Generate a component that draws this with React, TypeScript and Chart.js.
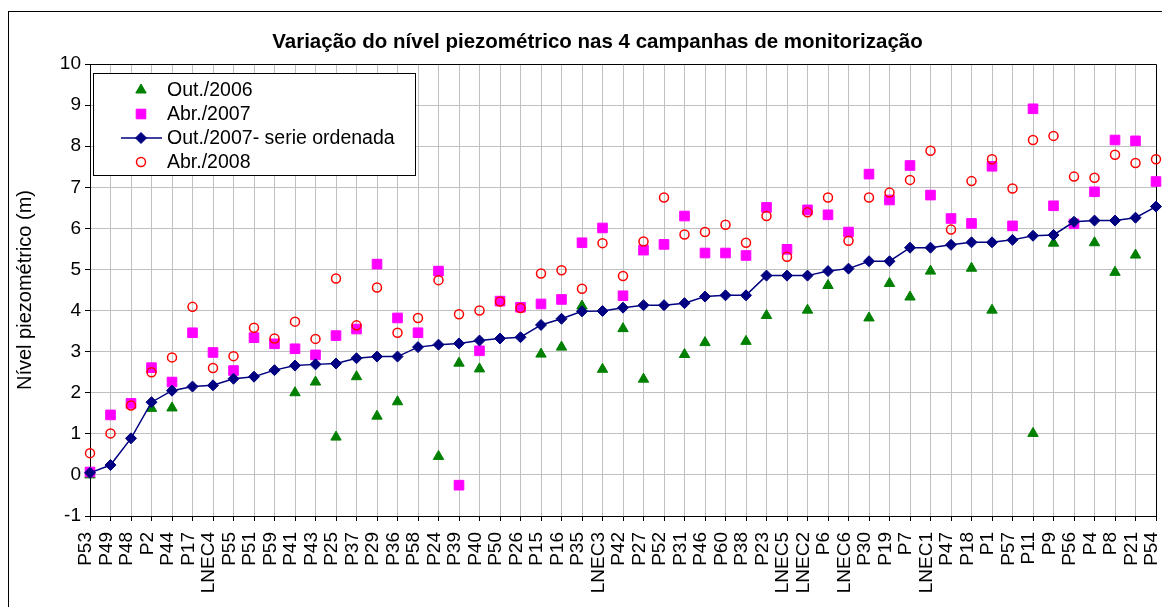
import React, { useEffect, useRef } from 'react';
import { Chart, registerables } from 'chart.js';

Chart.register(...registerables);

const FONT = '"Liberation Sans", Arial, Helvetica, sans-serif';

const chartTitle = 'Variação do nível piezométrico nas 4 campanhas de monitorização';
const yAxisTitle = 'Nível piezométrico (m)';
const yMin = -1;
const yMax = 10;
const yStep = 1;

const categories = [
  'P53', 'P49', 'P48', 'P2', 'P44', 'P17', 'LNEC4', 'P55', 'P51', 'P59',
  'P41', 'P43', 'P25', 'P37', 'P29', 'P36', 'P58', 'P24', 'P39', 'P40',
  'P50', 'P26', 'P15', 'P16', 'P35', 'LNEC3', 'P42', 'P27', 'P52', 'P31',
  'P46', 'P60', 'P38', 'P23', 'LNEC5', 'LNEC2', 'P6', 'LNEC6', 'P30', 'P19',
  'P7', 'LNEC1', 'P47', 'P18', 'P1', 'P57', 'P11', 'P9', 'P56', 'P4',
  'P8', 'P21', 'P54',
];

const seriesNames = ['Out./2006', 'Abr./2007', 'Out./2007- serie ordenada', 'Abr./2008'];

const out2006 = [
  0.0, null, null, 1.62, 1.63, null, null, null, null, null,
  2.0, 2.26, 0.92, 2.39, 1.43, 1.78, null, 0.45, 2.72, 2.58,
  null, null, 2.94, 3.11, 4.11, 2.57, 3.56, 2.33, null, 2.93,
  3.22, null, 3.25, 3.88, null, 4.01, 4.61, null, 3.82, 4.66,
  4.33, 4.96, null, 5.03, 4.01, null, 1.01, 5.64, null, 5.65,
  4.93, 5.35, null,
];

const abr2007 = [
  0.07, 1.46, 1.74, 2.61, 2.26, 3.46, 2.98, 2.54, 3.34, 3.19,
  3.07, 2.92, 3.39, 3.55, 5.13, 3.82, 3.46, 4.96, -0.25, 3.02,
  4.23, 4.08, 4.16, 4.27, 5.65, 6.01, 4.36, 5.47, 5.61, 6.30,
  5.40, 5.40, 5.34, 6.51, 5.49, 6.45, 6.33, 5.91, 7.32, 6.69,
  7.53, 6.81, 6.24, 6.12, 7.51, 6.06, 8.91, 6.55, 6.11, 6.89,
  8.15, 8.13, 7.14,
];

const out2007 = [
  0.05, 0.24, 0.89, 1.77, 2.05, 2.15, 2.18, 2.34, 2.39, 2.55,
  2.66, 2.69, 2.71, 2.84, 2.88, 2.88, 3.11, 3.17, 3.20, 3.27,
  3.32, 3.35, 3.65, 3.80, 3.98, 3.99, 4.07, 4.13, 4.13, 4.18,
  4.34, 4.37, 4.37, 4.85, 4.85, 4.85, 4.96, 5.02, 5.20, 5.20,
  5.53, 5.53, 5.60, 5.66, 5.66, 5.72, 5.82, 5.84, 6.16, 6.19,
  6.19, 6.26, 6.53,
];

const abr2008 = [
  0.53, 1.01, 1.69, 2.50, 2.86, 4.09, 2.60, 2.89, 3.58, 3.32,
  3.73, 3.31, 4.78, 3.64, 4.56, 3.46, 3.82, 4.74, 3.91, 4.00,
  4.22, 4.06, 4.90, 4.98, 4.53, 5.64, 4.84, 5.68, 6.75, 5.85,
  5.91, 6.09, 5.65, 6.30, 5.31, 6.39, 6.75, 5.70, 6.75, 6.87,
  7.18, 7.89, 5.97, 7.15, 7.68, 6.97, 8.15, 8.25, 7.26, 7.23,
  7.79, 7.59, 7.68,
];

function drawMarker(
  ctx: CanvasRenderingContext2D,
  style: string,
  x: number,
  y: number,
  r: number,
  fill: string,
  stroke: string,
  lw: number
) {
  ctx.beginPath();
  if (style === 'triangle') {
    ctx.moveTo(x, y - r);
    ctx.lineTo(x + r * 0.866, y + r / 2);
    ctx.lineTo(x - r * 0.866, y + r / 2);
    ctx.closePath();
  } else if (style === 'rect') {
    const s = r * Math.SQRT1_2;
    ctx.rect(x - s, y - s, 2 * s, 2 * s);
  } else if (style === 'rectRot') {
    ctx.moveTo(x - r, y);
    ctx.lineTo(x, y - r);
    ctx.lineTo(x + r, y);
    ctx.lineTo(x, y + r);
    ctx.closePath();
  } else {
    ctx.arc(x, y, r, 0, Math.PI * 2);
  }
  if (fill && fill !== 'transparent') {
    ctx.fillStyle = fill;
    ctx.fill();
  }
  if (lw > 0) {
    ctx.strokeStyle = stroke;
    ctx.lineWidth = lw;
    ctx.stroke();
  }
}

const plotBorderPlugin = {
  id: 'plotBorder',
  beforeDatasetsDraw(chart: any) {
    const { ctx, chartArea } = chart;
    ctx.save();
    ctx.strokeStyle = '#000';
    ctx.lineWidth = 1;
    const l = Math.round(chartArea.left) + 0.5;
    const t = Math.round(chartArea.top) + 0.5;
    const r = Math.round(chartArea.right) + 0.5;
    const b = Math.round(chartArea.bottom) + 0.5;
    ctx.beginPath();
    ctx.moveTo(l, t);
    ctx.lineTo(r, t);
    ctx.lineTo(r, b);
    ctx.stroke();
    ctx.restore();
  },
};

const boxLegendPlugin = {
  id: 'boxLegend',
  afterDatasetsDraw(chart: any) {
    const { ctx, chartArea } = chart;
    const x0 = Math.round(chartArea.left) + 3;
    const y0 = Math.round(chartArea.top) + 9;
    const w = 322;
    const h = 102;
    ctx.save();
    ctx.fillStyle = '#fff';
    ctx.fillRect(x0, y0, w, h);
    ctx.strokeStyle = '#000';
    ctx.lineWidth = 1;
    ctx.strokeRect(x0 + 0.5, y0 + 0.5, w, h);
    ctx.font = `19.5px ${FONT}`;
    ctx.textBaseline = 'middle';
    ctx.textAlign = 'left';
    chart.data.datasets.forEach((ds: any, i: number) => {
      const ry = y0 + 17 + i * 24;
      const mx = x0 + 48;
      if (ds.showLine !== false) {
        ctx.beginPath();
        ctx.strokeStyle = ds.borderColor;
        ctx.lineWidth = ds.borderWidth;
        ctx.moveTo(x0 + 28, ry);
        ctx.lineTo(x0 + 69, ry);
        ctx.stroke();
      }
      drawMarker(
        ctx,
        ds.pointStyle,
        mx,
        ry,
        ds.pointRadius,
        ds.pointBackgroundColor,
        ds.pointBorderColor,
        ds.pointBorderWidth
      );
      ctx.fillStyle = '#000';
      ctx.fillText(ds.label, x0 + 74, ry + 1);
    });
    ctx.restore();
  },
};

export default function App() {
  const canvasRef = useRef<HTMLCanvasElement | null>(null);

  useEffect(() => {
    if (!canvasRef.current) return;
    const chart = new Chart(canvasRef.current, {
      type: 'line',
      data: {
        labels: categories,
        datasets: [
          {
            label: seriesNames[0],
            data: out2006,
            showLine: false,
            pointStyle: 'triangle',
            pointRadius: 6,
            pointHoverRadius: 6,
            pointBackgroundColor: '#008000',
            pointBorderColor: '#008000',
            pointBorderWidth: 1,
            borderColor: '#008000',
            backgroundColor: '#008000',
            order: 3,
          },
          {
            label: seriesNames[1],
            data: abr2007,
            showLine: false,
            pointStyle: 'rect',
            pointRadius: 6.8,
            pointHoverRadius: 6.8,
            pointBackgroundColor: '#FF00FF',
            pointBorderColor: '#FF00FF',
            pointBorderWidth: 1,
            borderColor: '#FF00FF',
            backgroundColor: '#FF00FF',
            order: 2,
          },
          {
            label: seriesNames[2],
            data: out2007,
            showLine: true,
            borderColor: '#000080',
            borderWidth: 1.5,
            pointStyle: 'rectRot',
            pointRadius: 5.5,
            pointHoverRadius: 5.5,
            pointBackgroundColor: '#000080',
            pointBorderColor: '#000080',
            pointBorderWidth: 1,
            backgroundColor: '#000080',
            tension: 0,
            fill: false,
            order: 1,
          },
          {
            label: seriesNames[3],
            data: abr2008,
            showLine: false,
            pointStyle: 'circle',
            pointRadius: 4.5,
            pointHoverRadius: 4.5,
            pointBackgroundColor: 'transparent',
            pointBorderColor: '#FF0000',
            pointBorderWidth: 1.5,
            borderColor: '#FF0000',
            backgroundColor: 'transparent',
            order: 0,
          },
        ],
      },
      options: {
        responsive: false,
        animation: false,
        devicePixelRatio: 1,
        layout: { padding: { left: 30, right: 9, top: 0, bottom: 0 } },
        plugins: {
          legend: { display: false },
          tooltip: { enabled: false },
          title: {
            display: true,
            text: chartTitle,
            color: '#000',
            font: { family: FONT, size: 20.5, weight: 'bold' },
            padding: { top: 18, bottom: 9.4 },
          },
        },
        scales: {
          x: {
            type: 'category',
            offset: false,
            grid: {
              color: '#c0c0c0',
              lineWidth: 1,
              tickColor: '#000',
              tickLength: 5,
              drawTicks: true,
            },
            border: { color: '#000', width: 1 },
            ticks: {
              autoSkip: false,
              maxRotation: 90,
              minRotation: 90,
              color: '#000',
              padding: 11,
              labelOffset: -4,
              font: { family: FONT, size: 19 },
            },
            afterFit: (s: any) => {
              s.height = 96;
              s.paddingLeft = 0;
              s.paddingRight = 0;
            },
          },
          y: {
            min: yMin,
            max: yMax,
            grid: {
              color: '#c0c0c0',
              lineWidth: 1,
              tickColor: '#000',
              tickLength: 5,
              drawTicks: true,
            },
            border: { color: '#000', width: 1 },
            ticks: {
              stepSize: yStep,
              color: '#000',
              padding: 4,
              font: { family: FONT, size: 19 },
            },
            title: {
              display: true,
              text: yAxisTitle,
              color: '#000',
              font: { family: FONT, size: 20 },
              padding: { top: -26, bottom: 0 },
            },
            afterFit: (s: any) => {
              s.width = 51;
              s.paddingTop = 0;
              s.paddingBottom = 0;
            },
          },
        },
      },
      plugins: [plotBorderPlugin, boxLegendPlugin],
    } as any);
    return () => chart.destroy();
  }, []);

  return (
    <div
      style={{
        position: 'relative',
        top: 3,
        width: 1156,
        height: 600,
        border: '1px solid #000',
        background: '#fff',
      }}
    >
      <canvas ref={canvasRef} width={1156} height={600} style={{ display: 'block' }} />
    </div>
  );
}
